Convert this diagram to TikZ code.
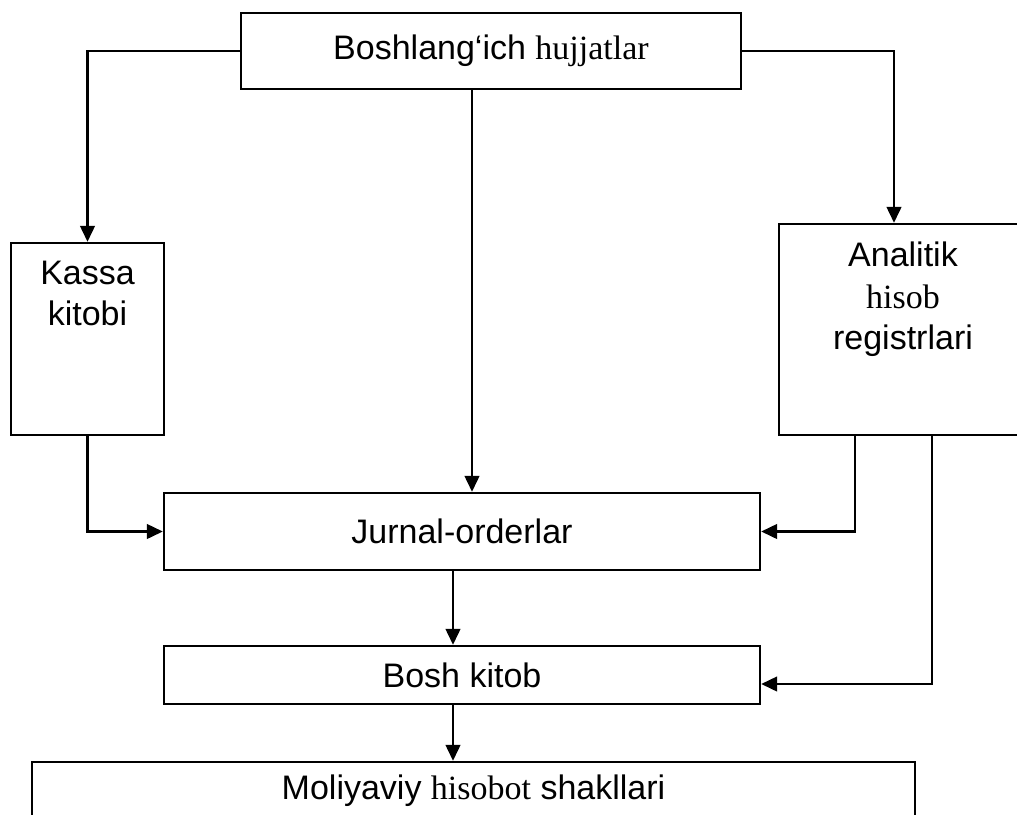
\documentclass[tikz,border=0pt]{standalone}
\usepackage{fontspec}
\setmainfont{Liberation Sans}
\newfontfamily\tms{Liberation Serif}
\usetikzlibrary{arrows.meta,positioning}

\begin{document}
\begin{tikzpicture}[x=0.75pt,y=0.75pt,yscale=-1,xscale=1,
    box/.style={draw,line width=1.8pt,inner sep=0pt,font=\fontsize{25.5}{31}\selectfont},
    txt/.style={inner sep=0pt,align=center,font=\fontsize{25.5}{31}\selectfont},
    arr/.style={line width=1.8pt,-{Triangle[length=12pt,width=11pt]}}]
    \useasboundingbox (0,0) rectangle (1017,814);
    \clip (0,0) rectangle (1017,814);

    %Boxes
    \node[box,minimum width=375pt,minimum height=57pt] (nach) at (491,51) {Boshlang‘ich {\tms hujjatlar}};
    \node[box,minimum width=114.75pt,minimum height=144pt] (kassa) at (87.5,339) {};
    \node[box,minimum width=186pt,minimum height=158.25pt] (analit) at (903,329.5) {};
    \node[box,minimum width=447pt,minimum height=57.75pt] (jurnal) at (462,531.5) {Jurnal-orderlar};
    \node[box,minimum width=447pt,minimum height=43.5pt] (bosh) at (462,675) {Bosh kitob};
    \node[box,minimum width=662.25pt,minimum height=43.5pt] (moliya) at (473.5,791) {Moliyaviy {\tms hisobot} shakllari};

    % Text Node
    \node[txt,anchor=north,below=14.25pt of kassa.north] (kassatxt) {Kassa\\kitobi};
    % Text Node
    \node[txt,anchor=north,below=14.25pt of analit.north] (analittxt) {Analitik\\{\tms hisob}\\registrlari};

    %Arrows
    \draw[arr] (nach.west) -| (kassa.north);
    \draw[arr] (nach.east) -| ([xshift=-6.75pt]analit.north);
    \draw[arr] ([xshift=-14.25pt]nach.south) -- ([xshift=-14.25pt]nach.south |- jurnal.north);
    \draw[arr] (kassa.south) |- (jurnal.west);
    \draw[arr] ([xshift=57.75pt]analit.south west) |- (jurnal.east);
    \draw[arr] ([xshift=115.5pt]analit.south west) |- ([yshift=6.75pt]bosh.east);
    \draw[arr] ([xshift=-6.75pt]jurnal.south) -- ([xshift=-6.75pt]jurnal.south |- bosh.north);
    \draw[arr] ([xshift=-6.75pt]bosh.south) -- ([xshift=-6.75pt]bosh.south |- moliya.north);

\end{tikzpicture}
\end{document}
